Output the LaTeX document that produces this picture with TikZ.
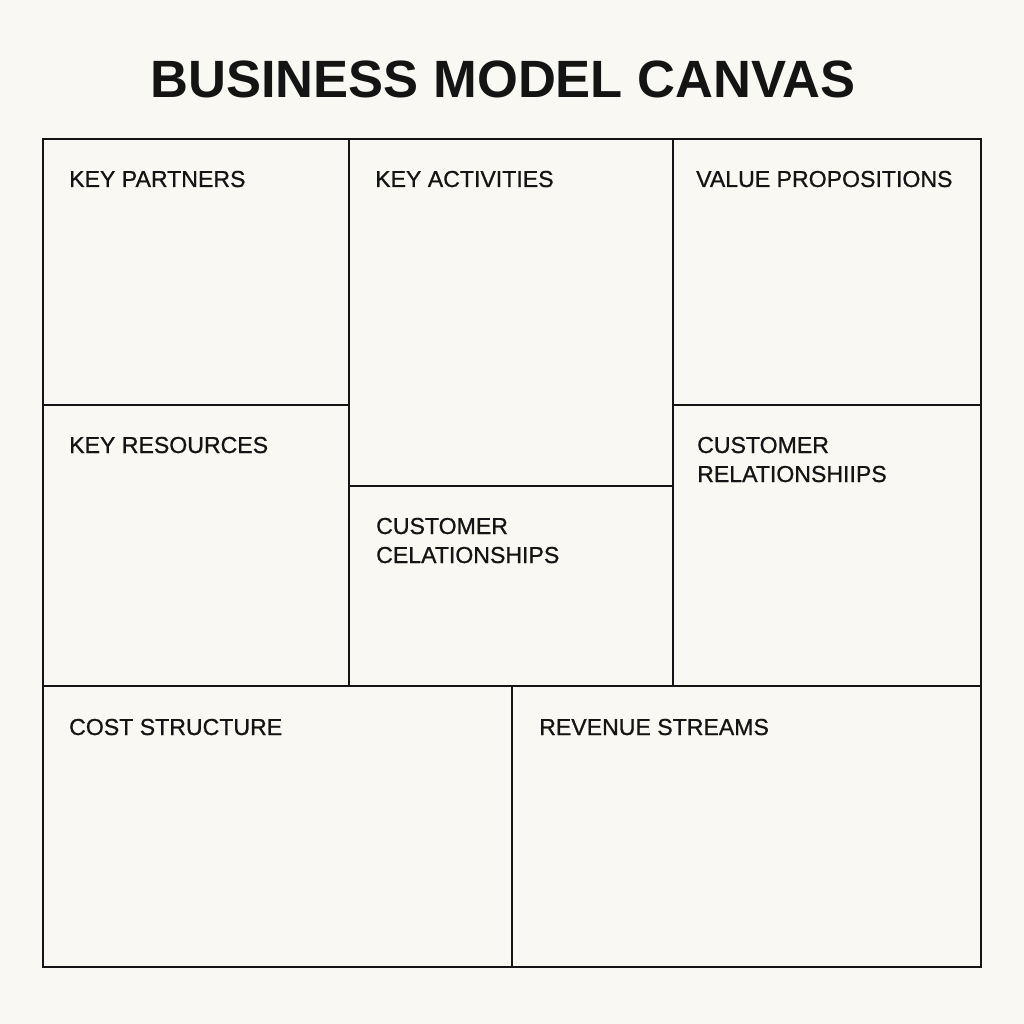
\documentclass[tikz,border=0pt]{standalone}
\usepackage{fontspec}
\setmainfont{Liberation Sans}
\newfontfamily\lblfont[FakeBold=0.8]{Liberation Sans}
\definecolor{bg}{HTML}{FAF8F2}
\definecolor{ink}{HTML}{141414}
\begin{document}
\begin{tikzpicture}[x=1pt,y=-1pt,
  lbl/.style={anchor=base west,inner sep=0pt,text=ink,font=\lblfont\fontsize{23.1}{29}\selectfont,align=left},
  grid/.style={draw=ink,line width=1.4pt},
  title/.style={anchor=base,inner sep=0pt,text=ink,font=\fontsize{52.5}{60}\selectfont\bfseries}]
\useasboundingbox (0,0) rectangle (1024,1024);
\fill[bg] (0,0) rectangle (1024,1024);
\node[title] (t) at (503,98) {BUSINESS MODEL CANVAS};
% grid coordinates
\coordinate (tl) at (43,139);
\coordinate (br) at (981,967);
\draw[grid,line width=1.7pt] (tl) rectangle (br);
\draw[grid] (349,139) -- (349,686);
\draw[grid] (673,139) -- (673,686);
\draw[grid] (43,405) -- (349,405);
\draw[grid] (673,405) -- (981,405);
\draw[grid] (349,486) -- (673,486);
\draw[grid] (43,686) -- (981,686);
\draw[grid] (512,686) -- (512,967);
% labels
\node[lbl] (kp) at (69,187) {KEY PARTNERS};
\node[lbl] (ka) at (375,187) {KEY ACTIVITIES};
\node[lbl] (vp) at (696,187) {VALUE PROPOSITIONS};
\node[lbl] (kr) at (69,453) {KEY RESOURCES};
\node[lbl] (cr1) at (697,482) {CUSTOMER\\RELATIONSHIIPS};
\node[lbl] (cr2) at (376,563) {CUSTOMER\\CELATIONSHIPS};
\node[lbl] (cs) at (69,735) {COST STRUCTURE};
\node[lbl] (rs) at (539,735) {REVENUE STREAMS};
\end{tikzpicture}
\end{document}
